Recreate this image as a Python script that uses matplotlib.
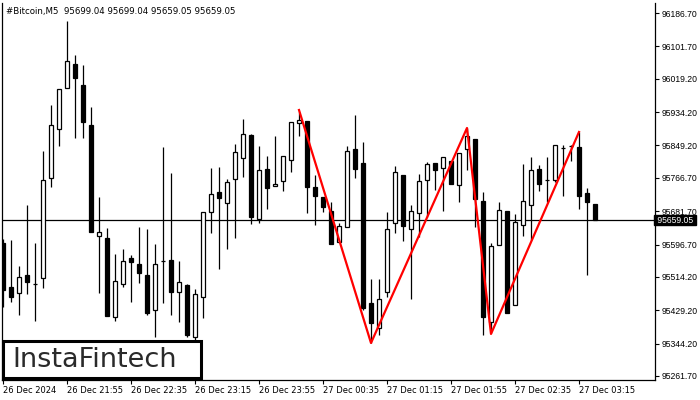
import matplotlib.pyplot as plt
from matplotlib.patches import Rectangle

# Candle data (5 min bars)
opens = [95600.6, 95488.5, 95473.2, 95519.1, 95496.2, 95511.5, 95766.3, 95891.1, 95995.6, 96056.7,
         96003.2, 95901.3, 95618.5, 95613.4, 95412.1, 95496.2, 95562.4, 95547.1, 95519.1, 95429.9,
         95554.8, 95557.3, 95475.8, 95493.6, 95361.1, 95463.0, 95679.6, 95730.6, 95702.6, 95763.7,
         95817.2, 95875.8, 95661.8, 95789.2, 95745.9, 95758.6, 95812.1, 95906.4, 95911.5, 95743.3,
         95717.8, 95682.2, 95603.2, 95641.4, 95840.1, 95804.5, 95447.8, 95384.1, 95475.8, 95651.6,
         95773.9, 95636.3, 95677.1, 95761.2, 95804.5, 95791.7, 95809.6, 95748.4, 95840.1, 95865.6,
         95707.7, 95399.3, 95595.5, 95682.2, 95442.7, 95646.5, 95697.5, 95789.2, 95761.2, 95761.2,
         95842.7, 95847.8, 95845.2, 95728.0, 95699.04]
highs = [95610.8, 95608.3, 95542.0, 95697.5, 95600.6, 95835.1, 95952.3, 95993.0, 96166.3, 96079.7,
         96054.2, 95947.2, 95717.8, 95638.8, 95572.6, 95585.3, 95570.1, 95641.4, 95636.3, 95598.1,
         95845.2, 95779.0, 95554.8, 95496.2, 95483.4, 95679.6, 95791.7, 95794.3, 95763.7, 95852.9,
         95916.6, 95878.4, 95847.8, 95822.3, 95873.3, 95822.3, 95908.9, 95934.4, 95911.5, 95773.9,
         95717.8, 95705.1, 95651.6, 95847.8, 95926.8, 95858.0, 95508.9, 95508.9, 95679.6, 95796.8,
         95773.9, 95697.5, 95776.4, 95807.0, 95804.5, 95819.8, 95809.6, 95830.0, 95893.7, 95865.6,
         95730.6, 95600.6, 95705.1, 95682.2, 95674.5, 95801.9, 95819.8, 95799.4, 95819.8, 95850.3,
         95850.3, 95850.3, 95883.5, 95740.8, 95699.04]
lows = [95437.6, 95450.3, 95417.2, 95470.7, 95401.9, 95486.0, 95743.3, 95847.8, 95995.6, 95868.2,
        95868.2, 95628.7, 95473.2, 95414.6, 95401.9, 95488.5, 95450.3, 95498.7, 95417.2, 95361.1,
        95447.8, 95417.2, 95399.3, 95361.1, 95353.5, 95409.5, 95626.1, 95534.4, 95585.3, 95613.4,
        95768.8, 95649.0, 95651.6, 95687.3, 95745.9, 95733.1, 95781.5, 95873.3, 95677.1, 95646.5,
        95679.6, 95598.1, 95603.2, 95641.4, 95766.3, 95429.9, 95345.8, 95366.2, 95463.0, 95626.1,
        95605.7, 95457.9, 95615.9, 95666.9, 95735.7, 95682.2, 95751.0, 95705.1, 95786.6, 95641.4,
        95366.2, 95371.3, 95595.5, 95422.3, 95442.7, 95618.5, 95608.3, 95733.1, 95705.1, 95756.1,
        95720.4, 95809.6, 95687.3, 95519.1, 95659.05]
closes = [95480.9, 95463.0, 95514.0, 95501.3, 95497.0, 95761.2, 95901.3, 95993.0, 96064.4, 96021.1,
          95908.9, 95628.7, 95628.7, 95414.6, 95503.8, 95554.8, 95552.2, 95524.2, 95422.3, 95547.1,
          95556.0, 95475.8, 95501.3, 95366.2, 95470.7, 95679.6, 95725.5, 95715.3, 95756.1, 95832.5,
          95878.4, 95666.9, 95786.6, 95740.8, 95751.0, 95822.3, 95908.9, 95914.0, 95743.3, 95720.4,
          95692.4, 95598.1, 95644.0, 95835.1, 95789.2, 95435.0, 95396.8, 95457.9, 95636.3, 95781.5,
          95644.0, 95682.2, 95758.6, 95801.9, 95786.6, 95819.8, 95751.0, 95830.0, 95873.3, 95712.7,
          95412.1, 95593.0, 95684.7, 95422.3, 95654.1, 95707.7, 95786.6, 95751.0, 95760.0, 95850.3,
          95843.5, 95848.5, 95720.4, 95705.1, 95659.05]

# Triple top pattern lines (bar index, price)
pattern_idx = [37, 46, 58, 61, 72]
pattern_px = [95939.5, 95345.8, 95893.7, 95368.8, 95883.5]

time_labels = ["26 Dec 2024", "26 Dec 21:55", "26 Dec 22:35", "26 Dec 23:15", "26 Dec 23:55",
               "27 Dec 00:35", "27 Dec 01:15", "27 Dec 01:55", "27 Dec 02:35", "27 Dec 03:15"]
price_ticks = [96186.70, 96101.70, 96019.20, 95934.20, 95849.20, 95766.70,
               95681.70, 95596.70, 95514.20, 95429.20, 95344.20, 95261.70]
last_price = 95659.05

fig = plt.figure(figsize=(7, 4), dpi=100)
ax = fig.add_axes([2 / 700, 0.05, 653 / 700, 0.9425])

# Candles
for i in range(len(opens)):
    o, h, l, c = opens[i], highs[i], lows[i], closes[i]
    ax.vlines(i, l, h, color="black", linewidth=0.9, zorder=2)
    face = "white" if c >= o else "black"
    ax.bar(i, abs(c - o), bottom=min(o, c), width=0.55, color=face,
           edgecolor="black", linewidth=0.9, zorder=3)

# Pattern lines
ax.plot(pattern_idx, pattern_px, color="#ff0000", linewidth=1.6, zorder=4)

# Last price line
ax.axhline(last_price, color="black", linewidth=0.9, zorder=1)

ax.set_xlim(-0.125, 81.5)
ax.set_ylim(95251.5, 96212.2)

ax.spines["top"].set_visible(False)
for s in ["left", "right", "bottom"]:
    ax.spines[s].set_linewidth(0.9)

ax.yaxis.tick_right()
ax.set_yticks(price_ticks)
ax.set_yticklabels(["%.2f" % p for p in price_ticks], family="Liberation Sans")
ax.tick_params(axis="y", length=3, width=0.8, labelsize=6.2, pad=2)

ax.set_xticks(list(range(0, 80, 8)))
ax.set_xticklabels(time_labels, ha="left")
ax.tick_params(axis="x", length=3, width=0.8, labelsize=6.0, pad=1.5)

# Current price tag
ax.text(1.0, last_price, " %.2f " % last_price, transform=ax.get_yaxis_transform(),
        ha="left", va="center", fontsize=6.2, color="white", family="Liberation Sans",
        bbox=dict(boxstyle="square,pad=0.1", facecolor="black", edgecolor="black"),
        clip_on=False, zorder=6)

# Title
ax.text(4 / 653, 0.977, "#Bitcoin,M5  95699.04 95699.04 95659.05 95659.05",
        transform=ax.transAxes, fontsize=6.2, ha="left", va="center", color="black")

# Logo box
fig.patches.append(Rectangle((3 / 700, 22 / 400), 198 / 700, 37 / 400, transform=fig.transFigure,
                             facecolor="white", edgecolor="black", linewidth=2.2, zorder=10))
fig.text(95 / 700, 40 / 400, "InstaFintech", fontsize=19.5, ha="center", va="center",
         color="#2a2a2a", zorder=11)

fig.savefig("out.png", dpi=100)
